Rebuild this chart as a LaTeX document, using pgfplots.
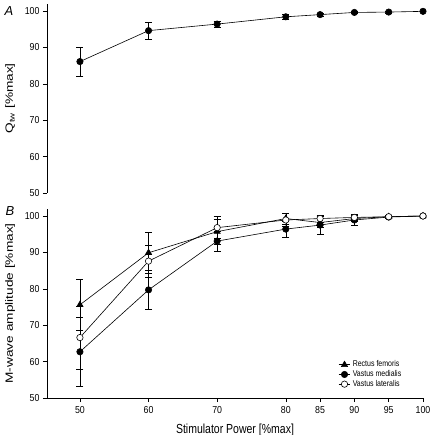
\documentclass[border=0pt]{standalone}
\usepackage{fontspec}
\setmainfont{Liberation Sans}
\setsansfont{Liberation Sans}
\usepackage{pgfplots}
\pgfplotsset{compat=1.18}
\begin{document}
\begin{tikzpicture}[x=1pt,y=1pt]
\pgfplotsset{
 base/.style={
  scale only axis, width=376pt, height=189.3pt,
  xmin=45.2, xmax=100, ymin=50, ymax=102,
  axis y line*=left,
  ytick={50,60,70,80,90,100},
  tick align=outside, major tick length=4pt,
  tick style={black, line width=0.5pt},
  axis line style={line width=0.5pt, -},
  /pgf/number format/assume math mode=true,
  tick label style={font=\fontsize{8.8}{10}\selectfont, yscale=1.15},
  label style={font=\fontsize{10.5}{12}\selectfont},
  ylabel style={at={(axis description cs:-0.098,0.5)}, anchor=center, xscale=1.3},
  every axis plot/.append style={black, line width=0.6pt},
  error bars/y dir=both, error bars/y explicit,
  error bars/error mark options={black, rotate=90, mark size=3.5pt, line width=0.5pt},
  error bars/error bar style={line width=0.5pt},
 },
}
\path[use as bounding box] (-47pt,-37pt) rectangle (384pt,398pt);
% Panel A
\begin{axis}[base, at={(0pt,205pt)}, anchor=south west,
  axis x line=none,
  ylabel={Q$_{\mathrm{tw}}$ [\%max]}]
\addplot[mark=*, mark size=3.2pt, mark options={fill=black}] table[x=x, y=y, y error=e] {
x y e
50 86.1 3.9
60 94.6 2.3
70 96.4 0.9
80 98.4 0.8
85 99.0 0.4
90 99.6 0.3
95 99.7 0.2
100 99.9 0.1
};
\end{axis}
% Panel B
\begin{axis}[base, at={(0pt,0pt)}, anchor=south west,
  axis x line*=bottom,
  xtick={50,60,70,80,85,90,95,100},
  xlabel={Stimulator Power [\%max]},
  xlabel style={at={(axis description cs:0.5,-0.169)}, anchor=center, yscale=1.25},
  ylabel={M-wave amplitude [\%max]},
  legend style={at={(rel axis cs:0.774,0.21)}, anchor=north west, draw=none, fill=none,
    font=\fontsize{7}{8}\selectfont, row sep=-3pt, inner sep=0pt,
    nodes={yscale=1.2}},
  legend cell align=left,
  legend image code/.code={\draw[mark repeat=2,mark phase=2] plot coordinates {(0cm,0cm) (0.21cm,0cm) (0.42cm,0cm)};}]
\addplot[mark=triangle*, mark size=3.6pt, mark options={fill=black}] table[x=x, y=y, y error=e] {
x y e
50 75.6 7.1
60 89.9 5.5
70 95.7 3.5
80 99.3 1.5
85 98.2 1.2
90 99.3 0.8
95 99.8 0.3
100 100 0
};
\addlegendentry{Rectus femoris}
\addplot[mark=*, mark size=3.2pt, mark options={fill=black}] table[x=x, y=y, y error=e] {
x y e
50 62.7 9.4
60 79.7 5.3
70 93.1 2.8
80 96.4 2.2
85 97.5 2.5
90 98.9 1.5
95 99.7 0.4
100 100 0
};
\addlegendentry{Vastus medialis}
\addplot[mark=*, mark size=3.2pt, mark options={fill=white}] table[x=x, y=y, y error=e] {
x y e
50 66.6 8.6
60 87.6 4.4
70 96.8 3.0
80 98.9 1.8
85 99.3 0.9
90 99.6 0.6
95 99.8 0.3
100 100 0
};
\addlegendentry{Vastus lateralis}
\end{axis}
\node[font=\fontsize{13}{14}\selectfont\itshape] at (-38pt,387pt) {A};
\node[font=\fontsize{13}{14}\selectfont\itshape] at (-37pt,187pt) {B};
\end{tikzpicture}
\end{document}
